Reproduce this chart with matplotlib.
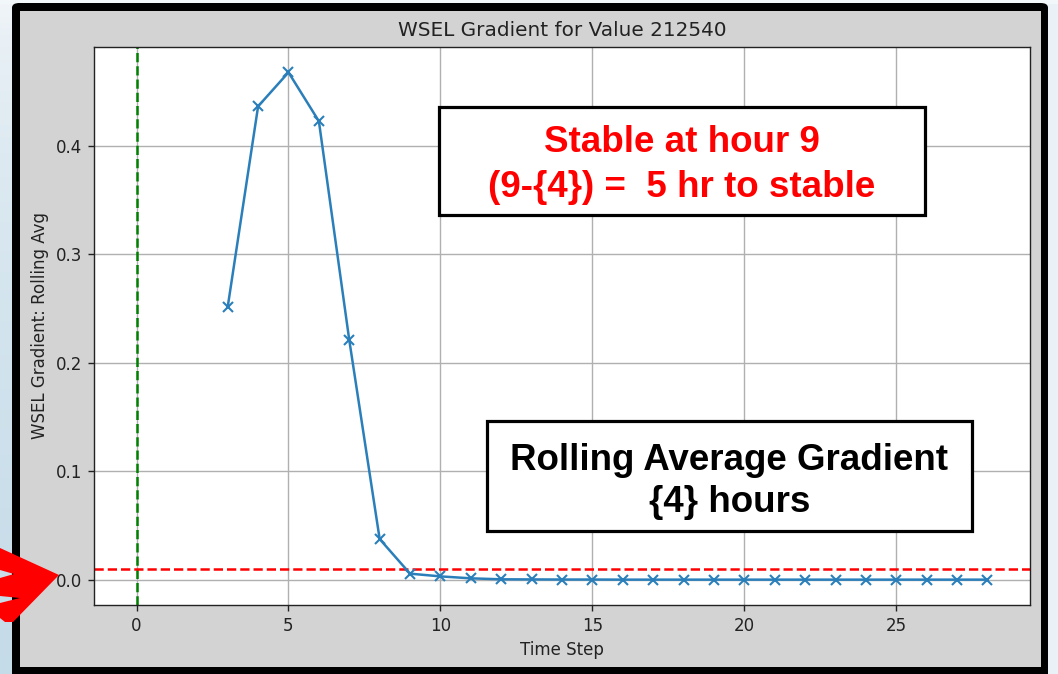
import numpy as np
import matplotlib
matplotlib.use("Agg")
import matplotlib.pyplot as plt
from matplotlib.patches import Rectangle, FancyBboxPatch, Polygon

# ---- data -------------------------------------------------------------
time_step = list(range(3, 29))
rolling_avg = [0.2513, 0.4361, 0.4674, 0.4224, 0.2207, 0.0374, 0.0055, 0.0030,
               0.0012, 0.0003, 0.0002, 0.0001, 0.0001, 0.0, 0.0, 0.0, 0.0, 0.0,
               0.0, 0.0, 0.0, 0.0, 0.0, 0.0, 0.0, 0.0]
start_marker = 0
stable_threshold = 0.01
title = "WSEL Gradient for Value 212540"
x_label = "Time Step"
y_label = "WSEL Gradient: Rolling Avg"
note_stable = ["Stable at hour 9", "(9-{4}) =  5 hr to stable"]
note_window = ["Rolling Average Gradient", "{4} hours"]

# ---- figure / page ---------------------------------------------------
W, H = 1058, 674
fig = plt.figure(figsize=(W / 100, H / 100), dpi=100)


def fx(x):
    return x / W


def fy(y):
    return 1 - y / H


# page background with a soft vertical gradient on the left edge
bg = fig.add_axes([0, 0, 1, 1], zorder=-10)
bg.set_axis_off()
rows = np.linspace(0, 1, H)[:, None, None]
cols = np.linspace(0, 1, W)[None, :, None]
top = np.array([0.96, 0.97, 0.98])
bot = np.array([0.77, 0.86, 0.91])
t = rows ** 0.5
grad = top * (1 - t) + bot * t
light = np.array([0.92, 0.95, 0.97])
img = np.where(cols > 0.5, light * np.ones((H, W, 3)), grad * np.ones((H, W, 3)))
img[:4, :, :] = np.array([0.95, 0.97, 0.98])
bg.imshow(img, extent=[0, 1, 0, 1], aspect="auto", transform=fig.transFigure)

# black frame and grey panel
fig.patches.append(FancyBboxPatch((fx(12), fy(684)), fx(1048) - fx(12), (684 - 3) / H,
                                  boxstyle="round,pad=0,rounding_size=0.007",
                                  transform=fig.transFigure, facecolor="black",
                                  edgecolor="black", linewidth=0, zorder=-5))
fig.patches.append(Rectangle((fx(20), fy(667)), fx(1041) - fx(20), (667 - 11) / H,
                             transform=fig.transFigure, facecolor="#d3d3d3",
                             edgecolor="none", zorder=-4))

# ---- chart -------------------------------------------------------------
ax = fig.add_axes([fx(94), fy(605), fx(1030) - fx(94), (605 - 47) / H])
ax.set_facecolor("white")
ax.plot(time_step, rolling_avg, marker="x", color="#2a7fba", linewidth=1.8,
        markersize=7.2, markeredgewidth=1.5, zorder=3)
ax.axvline(start_marker, color="green", linestyle="--", linewidth=1.8, zorder=2)
ax.axhline(stable_threshold, color="red", linestyle="--", linewidth=1.8, zorder=2)
ax.grid(True, color="#b0b0b0", linewidth=1.0)
ax.set_axisbelow(True)
ax.set_title(title, fontsize=14.4, color="#222222", pad=8)
ax.set_xlabel(x_label, fontsize=12, color="#222222", labelpad=4.8)
ax.set_ylabel(y_label, fontsize=12, color="#222222", labelpad=4.8)
ax.tick_params(labelsize=12, length=4.2, width=1.0, pad=4.2, colors="#222222")
for sp in ax.spines.values():
    sp.set_linewidth(1.0)
    sp.set_color("#222222")


# ---- annotation boxes --------------------------------------------------
def note_box(x0, y0, x1, y1, lines, baselines, color):
    fig.patches.append(Rectangle((fx(x0), fy(y1)), fx(x1) - fx(x0), (y1 - y0) / H,
                                 transform=fig.transFigure, facecolor="white",
                                 edgecolor="black", linewidth=2.3, zorder=5))
    cx = (x0 + x1) / 2
    for line, b in zip(lines, baselines):
        fig.text(fx(cx), fy(b), line, ha="center", va="baseline", color=color,
                 fontsize=26.5, fontweight="bold", family="Liberation Sans",
                 zorder=6)


note_box(439, 107, 925, 215, note_stable, [152, 197], "#ff0000")
note_box(487, 421, 972, 531, note_window, [470, 512], "black")

# ---- red pointer arrow ---------------------------------------------------
arrow_px = [(0, 548), (59, 575), (13, 622), (5, 622), (0, 618), (0, 603),
            (20, 598), (0, 596), (0, 578), (14, 574), (0, 570)]
fig.patches.append(Polygon([(fx(x), fy(y)) for x, y in arrow_px], closed=True,
                           transform=fig.transFigure, facecolor="#ff0000",
                           edgecolor="none", zorder=7))

fig.savefig("out.png", dpi=100)
